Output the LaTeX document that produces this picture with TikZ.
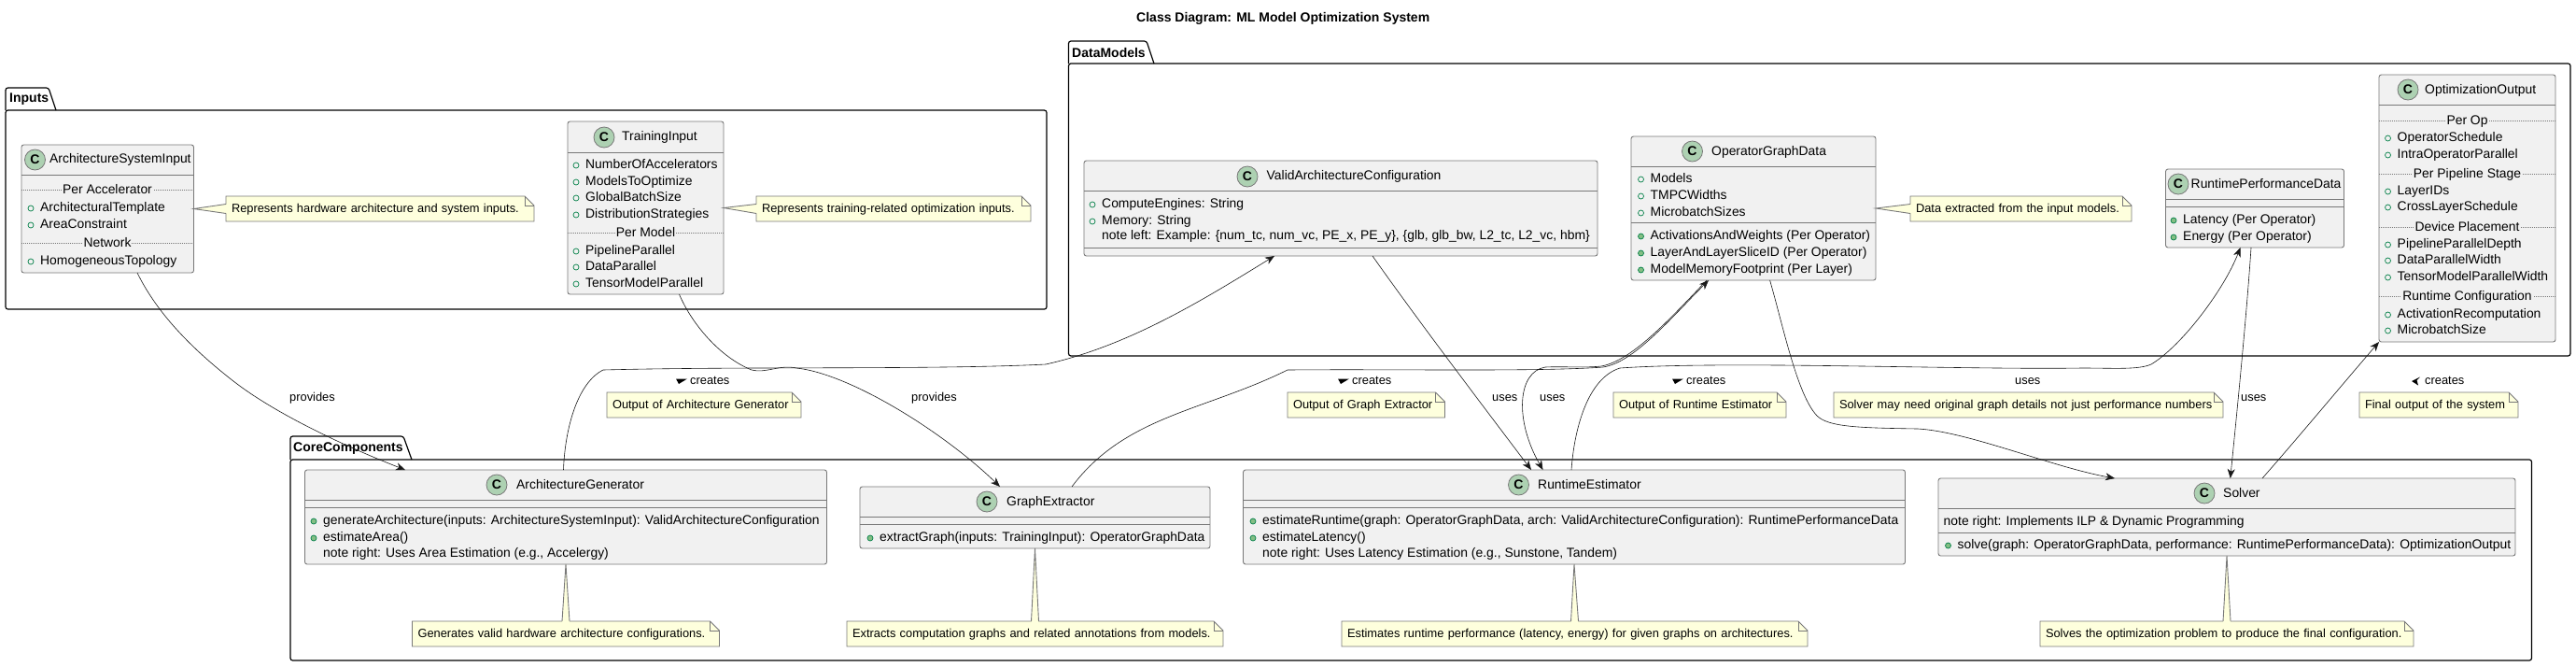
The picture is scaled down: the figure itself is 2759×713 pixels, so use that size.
\documentclass[tikz,border=0pt]{standalone}
\usepackage{fontspec}
\setmainfont{Liberation Sans}
\usetikzlibrary{arrows.meta}
\definecolor{classfill}{HTML}{F1F1F1}
\definecolor{notefill}{HTML}{FEFFDD}
\definecolor{markfill}{HTML}{ADD1B2}
\definecolor{linedark}{HTML}{181818}
\definecolor{linegray}{HTML}{787878}
\definecolor{dotline}{HTML}{038048}
\definecolor{dotfill}{HTML}{84BE84}

\begin{document}
\begin{tikzpicture}[x=1pt,y=1pt,
  classbox/.style 2 args={draw=linegray, line width=0.9pt, fill=classfill, rounded corners=2.5pt, anchor=north west, outer sep=0pt, inner sep=0pt, minimum width=#1, minimum height=#2},
  notebox/.style={fill=notefill, anchor=north west, outer sep=0pt, inner xsep=0pt, inner ysep=0pt, minimum height=27pt, text width=#1, align=left, font=\fontsize{12.85}{15}\selectfont, text height=10pt, text depth=3pt, execute at begin node={\hspace*{6pt}}},
  noteline/.style={draw=linegray, line width=0.9pt},
  sepline/.style={draw=linegray, line width=0.9pt},
  dotsep/.style={draw=linegray, line width=0.8pt, dash pattern=on 1pt off 1pt},
  pkgline/.style={draw=black, line width=1.2pt, rounded corners=2.5pt},
  pkgname/.style={anchor=west, inner sep=0pt, font=\fontsize{14}{16}\selectfont\bfseries},
  classmark/.style={circle, draw=linegray, line width=0.8pt, fill=markfill, minimum size=22pt, inner sep=0pt, font=\fontsize{14}{16}\selectfont\bfseries},
  classtitle/.style={anchor=west, inner sep=0pt, font=\fontsize{13.9}{16}\selectfont, text height=10pt, text depth=3pt},
  plainrow/.style={classtitle},
  fielddot/.style={circle, draw=dotline, line width=0.7pt, minimum size=6pt, inner sep=0pt, outer sep=0pt},
  methoddot/.style={fielddot, fill=dotfill},
  fieldrow/.style={classtitle, label={[fielddot, label distance=7pt]left:{}}},
  methodrow/.style={classtitle, label={[methoddot, label distance=7pt]left:{}}},
  divrow/.style={classtitle, anchor=center, fill=classfill, inner xsep=1pt},
  edgelabel/.style={anchor=west, inner sep=0pt, font=\fontsize{12.85}{15}\selectfont, text height=10pt, text depth=3pt},
  edgeline/.style={draw=linedark, line width=0.6pt, -{Stealth[length=10pt,width=8pt,inset=3pt]}}]
\useasboundingbox (0,0) rectangle (2759,-713);

\node[anchor=west, inner sep=0pt, font=\fontsize{14}{16}\selectfont\bfseries] (diagramtitle) at (1217,-20) {Class Diagram: ML Model Optimization System};

\draw[pkgline] (6,-118) -- (6,-94) -- (52,-94) -- (60,-118);
\draw[pkgline] (6,-118) -- (1121,-118) -- (1121,-331) -- (6,-331) -- cycle;
\node[pkgname] (inputsname) at (10,-106) {Inputs};
\draw[pkgline] (1144.5,-68) -- (1144.5,-44) -- (1228,-44) -- (1236,-68);
\draw[pkgline] (1144.5,-68) -- (2753,-68) -- (2753,-381) -- (1144.5,-381) -- cycle;
\node[pkgname] (datamodelsname) at (1148,-56) {DataModels};
\draw[pkgline] (311,-492) -- (311,-467) -- (432,-467) -- (441,-492);
\draw[pkgline] (311,-492) -- (2711.5,-492) -- (2711.5,-707) -- (311,-707) -- cycle;
\node[pkgname] (corename) at (314,-480) {CoreComponents};

\node[classbox={184.5pt}{137pt}] (asi) at (23,-155) {};
\node[classmark] (asimark) at (37.5,-171) {C};
\node[classtitle] (asititle) at (53,-171) {ArchitectureSystemInput};
\draw[sepline] (23,-187) -- (207.5,-187);
\draw[dotsep] (23,-203) -- (207.5,-203);
\node[divrow] (asi1) at (115,-204) {Per Accelerator};
\node[fieldrow] (asi2) at (43,-223) {ArchitecturalTemplate};
\node[fieldrow] (asi3) at (43,-241) {AreaConstraint};
\draw[dotsep] (23,-260) -- (207.5,-260);
\node[divrow] (asi4) at (115,-261) {Network};
\node[fieldrow] (asi5) at (43,-280) {HomogeneousTopology};

\node[classbox={167pt}{185pt}] (tin) at (608,-130) {};
\node[classmark] (tinmark) at (647,-147) {C};
\node[classtitle] (tintitle) at (666,-147) {TrainingInput};
\draw[sepline] (608,-163) -- (775,-163);
\node[fieldrow] (tin1) at (627,-177) {NumberOfAccelerators};
\node[fieldrow] (tin2) at (627,-195) {ModelsToOptimize};
\node[fieldrow] (tin3) at (627,-212) {GlobalBatchSize};
\node[fieldrow] (tin4) at (627,-230) {DistributionStrategies};
\draw[dotsep] (608,-249) -- (775,-249);
\node[divrow] (tin5) at (691.5,-250) {Per Model};
\node[fieldrow] (tin6) at (627,-269) {PipelineParallel};
\node[fieldrow] (tin7) at (627,-286) {DataParallel};
\node[fieldrow] (tin8) at (627,-304) {TensorModelParallel};

\node[classbox={550pt}{102pt}] (vac) at (1161,-172) {};
\node[classmark] (vacmark) at (1336,-189) {C};
\node[classtitle] (vactitle) at (1356.5,-189) {ValidArchitectureConfiguration};
\draw[sepline] (1161,-204) -- (1711,-204);
\node[fieldrow] (vac1) at (1180,-219) {ComputeEngines: String};
\node[fieldrow] (vac2) at (1180,-237) {Memory: String};
\node[plainrow] (vac3) at (1180,-253) {note left: Example: \{num\_tc, num\_vc, PE\_x, PE\_y\}, \{glb, glb\_bw, L2\_tc, L2\_vc, hbm\}};
\draw[sepline] (1161,-265) -- (1711,-265);

\node[classbox={262pt}{154pt}] (ogd) at (1747,-146) {};
\node[classmark] (ogdmark) at (1812.5,-162) {C};
\node[classtitle] (ogdtitle) at (1833,-163) {OperatorGraphData};
\draw[sepline] (1747,-178) -- (2009,-178);
\node[fieldrow] (ogd1) at (1767.5,-192) {Models};
\node[fieldrow] (ogd2) at (1767.5,-210) {TMPCWidths};
\node[fieldrow] (ogd3) at (1767.5,-228) {MicrobatchSizes};
\draw[sepline] (1747,-238) -- (2009,-238);
\node[methodrow] (ogd4) at (1767.5,-253) {ActivationsAndWeights (Per Operator)};
\node[methodrow] (ogd5) at (1767.5,-271) {LayerAndLayerSliceID (Per Operator)};
\node[methodrow] (ogd6) at (1767.5,-289) {ModelMemoryFootprint (Per Layer)};

\node[classbox={191pt}{84pt}] (rpd) at (2319.5,-181) {};
\node[classmark] (rpdmark) at (2333,-197) {C};
\node[classtitle] (rpdtitle) at (2346.5,-198) {RuntimePerformanceData};
\draw[sepline] (2319.5,-213) -- (2510.5,-213);
\draw[sepline] (2319.5,-221) -- (2510.5,-221);
\node[methodrow] (rpd1) at (2338,-236) {Latency (Per Operator)};
\node[methodrow] (rpd2) at (2338,-254) {Energy (Per Operator)};

\node[classbox={189pt}{286pt}] (oo) at (2548,-80) {};
\node[classmark] (oomark) at (2579,-96) {C};
\node[classtitle] (ootitle) at (2597,-97) {OptimizationOutput};
\draw[sepline] (2548,-112) -- (2737,-112);
\draw[dotsep] (2548,-129) -- (2737,-129);
\node[divrow] (oo1) at (2642.5,-130) {Per Op};
\node[fieldrow] (oo2) at (2567.5,-148) {OperatorSchedule};
\node[fieldrow] (oo3) at (2567.5,-166) {IntraOperatorParallel};
\draw[dotsep] (2548,-186) -- (2737,-186);
\node[divrow] (oo4) at (2642.5,-187) {Per Pipeline Stage};
\node[fieldrow] (oo5) at (2567.5,-205) {LayerIDs};
\node[fieldrow] (oo6) at (2567.5,-222) {CrossLayerSchedule};
\draw[dotsep] (2548,-243) -- (2737,-243);
\node[divrow] (oo7) at (2642.5,-244) {Device Placement};
\node[fieldrow] (oo8) at (2567.5,-262) {PipelineParallelDepth};
\node[fieldrow] (oo9) at (2567.5,-279) {DataParallelWidth};
\node[fieldrow] (oo10) at (2567.5,-297) {TensorModelParallelWidth};
\draw[dotsep] (2548,-317) -- (2737,-317);
\node[divrow] (oo11) at (2642.5,-318) {Runtime Configuration};
\node[fieldrow] (oo12) at (2567.5,-337) {ActivationRecomputation};
\node[fieldrow] (oo13) at (2567.5,-354) {MicrobatchSize};

\node[classbox={559pt}{101pt}] (arch) at (326.5,-503) {};
\node[classmark] (archmark) at (532,-519) {C};
\node[classtitle] (archtitle) at (553,-520) {ArchitectureGenerator};
\draw[sepline] (326.5,-535) -- (885.5,-535);
\draw[sepline] (326.5,-543) -- (885.5,-543);
\node[methodrow] (arch1) at (346,-558) {generateArchitecture(inputs: ArchitectureSystemInput): ValidArchitectureConfiguration};
\node[methodrow] (arch2) at (346,-576) {estimateArea()};
\node[plainrow] (arch3) at (346,-593) {note right: Uses Area Estimation (e.g., Accelergy)};

\node[classbox={375pt}{66pt}] (gex) at (921,-521) {};
\node[classmark] (gexmark) at (1057,-537) {C};
\node[classtitle] (gextitle) at (1078,-538) {GraphExtractor};
\draw[sepline] (921,-553) -- (1296,-553);
\draw[sepline] (921,-561) -- (1296,-561);
\node[methodrow] (gex1) at (942,-576) {extractGraph(inputs: TrainingInput): OperatorGraphData};

\node[classbox={709pt}{101pt}] (re) at (1331.5,-503) {};
\node[classmark] (remark) at (1626.5,-519) {C};
\node[classtitle] (retitle) at (1647,-520) {RuntimeEstimator};
\draw[sepline] (1331.5,-535) -- (2040.5,-535);
\draw[sepline] (1331.5,-543) -- (2040.5,-543);
\node[methodrow] (re1) at (1352,-558) {estimateRuntime(graph: OperatorGraphData, arch: ValidArchitectureConfiguration): RuntimePerformanceData};
\node[methodrow] (re2) at (1352,-576) {estimateLatency()};
\node[plainrow] (re3) at (1352,-593) {note right: Uses Latency Estimation (e.g., Sunstone, Tandem)};

\node[classbox={618pt}{83pt}] (sol) at (2076,-512) {};
\node[classmark] (solmark) at (2361,-528) {C};
\node[classtitle] (soltitle) at (2381,-529) {Solver};
\draw[sepline] (2076,-544) -- (2694,-544);
\node[plainrow] (sol1) at (2081.5,-559) {note right: Implements ILP \& Dynamic Programming};
\draw[sepline] (2076,-570) -- (2694,-570);
\node[methodrow] (sol2) at (2096.5,-584) {solve(graph: OperatorGraphData, performance: RuntimePerformanceData): OptimizationOutput};

\node[notebox=330pt] (asinote) at (242,-210) {Represents hardware architecture and system inputs.};
\node[notebox=294pt] (tinnote) at (810,-210) {Represents training-related optimization inputs.};
\node[notebox=237pt] (ogdnote) at (2046,-210) {Data extracted from the input models.};
\node[notebox=208pt] (vacnote) at (650,-420) {Output of Architecture Generator};
\node[notebox=168.5pt] (gexnote) at (1379,-420) {Output of Graph Extractor};
\node[notebox=185pt] (renote) at (1728,-420) {Output of Runtime Estimator};
\node[notebox=417pt] (usesnote) at (1964,-420) {Solver may need original graph details not just performance numbers};
\node[notebox=170pt] (oonote) at (2527,-420) {Final output of the system};
\node[notebox=329pt] (archnote) at (441.5,-665) {Generates valid hardware architecture configurations.};
\node[notebox=403pt] (extractnote) at (907,-665) {Extracts computation graphs and related annotations from models.};
\node[notebox=499pt] (estimnote) at (1437,-665) {Estimates runtime performance (latency, energy) for given graphs on architectures.};
\node[notebox=400pt] (solvnote) at (2185,-665) {Solves the optimization problem to produce the final configuration.};

\foreach \n in {asinote,tinnote,ogdnote,vacnote,gexnote,renote,usesnote,oonote,archnote,extractnote,estimnote,solvnote}{
  \fill[white] ([xshift=-10pt]\n.north east) -- (\n.north east) -- ([yshift=-10pt]\n.north east) -- cycle;
  \draw[noteline] (\n.north west) -- ([xshift=-10pt]\n.north east) -- ([yshift=-10pt]\n.north east) -- (\n.south east) -- (\n.south west) -- cycle;
  \draw[noteline] ([xshift=-10pt]\n.north east) -- ([xshift=-10pt,yshift=-10pt]\n.north east) -- ([yshift=-10pt]\n.north east);
}
\foreach \c/\n in {asi/asinote,tin/tinnote,ogd/ogdnote}{
  \fill[notefill] (\c.east) -- ([xshift=1pt,yshift=5pt]\n.west) -- ([xshift=1pt,yshift=-5pt]\n.west) -- cycle;
  \draw[noteline] ([yshift=5pt]\n.west) -- (\c.east) -- ([yshift=-5pt]\n.west);
}
\foreach \c/\n in {arch/archnote,gex/extractnote,re/estimnote,sol/solvnote}{
  \fill[notefill] (\c.south) -- ([xshift=4pt,yshift=-1pt]\n.north) -- ([xshift=-4pt,yshift=-1pt]\n.north) -- cycle;
  \draw[noteline] ([xshift=4pt]\n.north) -- (\c.south) -- ([xshift=-4pt]\n.north);
}

\draw[edgeline] ([xshift=124pt]asi.south west) .. controls (168,-335) and (205,-373) .. (250,-408) .. controls (295,-443) and (370,-478) .. ([xshift=107.5pt]arch.north west);
\draw[edgeline] ([xshift=119.5pt]tin.south west) .. controls (740,-345) and (770,-382) .. (805,-396) .. controls (820,-400) and (835,-390) .. (853,-394) .. controls (910,-400) and (1010,-462) .. ([xshift=150pt]gex.north west);
\draw[edgeline] ([xshift=277pt]arch.north west) .. controls (605,-460) and (618,-410) .. (646,-396) .. controls (800,-392) and (1000,-396) .. (1120,-390) .. controls (1210,-370) and (1290,-320) .. ([xshift=204pt]vac.south west);
\draw[edgeline] ([xshift=309pt]vac.south west) .. controls (1520,-345) and (1600,-450) .. ([xshift=308.5pt]re.north west);
\draw[edgeline] ([xshift=227pt]gex.north west) .. controls (1205,-445) and (1290,-440) .. (1379,-396) .. controls (1500,-395) and (1650,-398) .. (1717,-393) .. controls (1750,-388) and (1790,-340) .. ([xshift=83pt]ogd.south west);
\draw[edgeline] ([xshift=81pt]ogd.south west) .. controls (1788,-342) and (1748,-386) .. (1715,-392) .. controls (1695,-394) and (1675,-392) .. (1655,-393) .. controls (1625,-398) and (1622,-450) .. ([xshift=321pt]re.north west);
\draw[edgeline] ([xshift=351.5pt]re.north west) .. controls (1686,-460) and (1700,-405) .. (1735,-394) .. controls (1850,-386) and (2100,-396) .. (2230,-394) .. controls (2265,-394) and (2290,-396) .. (2304,-390) .. controls (2337,-370) and (2382,-310) .. ([xshift=80pt]rpd.south west);
\draw[edgeline] ([xshift=148.6pt]ogd.south west) .. controls (1910,-350) and (1925,-423) .. (1946,-445) .. controls (1958,-457) and (1990,-458) .. (2054,-459) .. controls (2108,-462) and (2198,-500) .. ([xshift=189pt]sol.north west);
\draw[edgeline] ([xshift=91.5pt]rpd.south west) .. controls (2406,-340) and (2395,-450) .. ([xshift=312.7pt]sol.north west);
\draw[edgeline] ([xshift=347pt]sol.north west) .. controls (2460,-470) and (2510,-410) .. (oo.south west);

\node[edgelabel] (provides1) at (310,-426) {provides};
\node[edgelabel] (provides2) at (976,-426) {provides};
\node[edgelabel] (creates1) at (739,-408) {creates};
\node[edgelabel] (creates2) at (1448,-408) {creates};
\node[edgelabel] (creates3) at (1806,-408) {creates};
\node[edgelabel] (creates4) at (2597,-408) {creates};
\node[edgelabel] (uses1) at (1598,-426) {uses};
\node[edgelabel] (uses2) at (1649,-426) {uses};
\node[edgelabel] (uses3) at (2158,-408) {uses};
\node[edgelabel] (uses4) at (2400,-426) {uses};
\fill[black] (724,-405.5) -- ++(12,0) -- ++(-9,-5.5) -- cycle;
\fill[black] (1433,-405.5) -- ++(12,0) -- ++(-9,-5.5) -- cycle;
\fill[black] (1791,-405.5) -- ++(12,0) -- ++(-9,-5.5) -- cycle;
\fill[black] (2592,-403.5) -- (2583,-408) -- (2590,-412.5) -- (2588.5,-407) -- cycle;
\end{tikzpicture}
\end{document}
